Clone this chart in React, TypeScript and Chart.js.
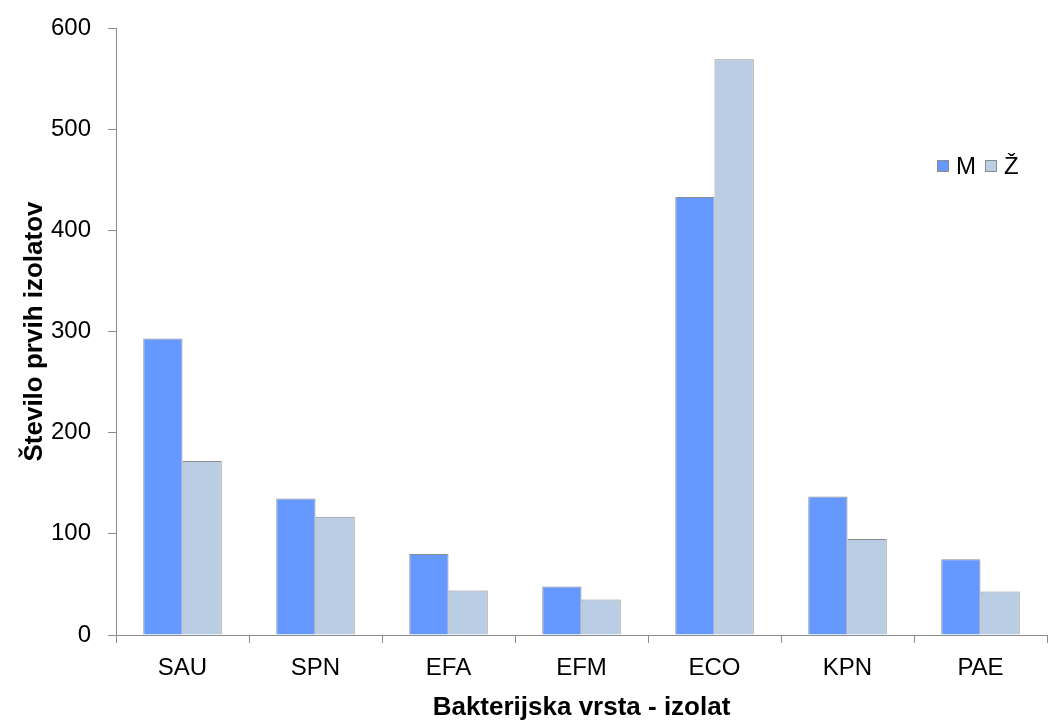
import React, { useEffect, useRef } from "react";
import { Chart, registerables } from "chart.js";

Chart.register(...registerables);

const categories = ["SAU", "SPN", "EFA", "EFM", "ECO", "KPN", "PAE"];
const seriesNames = ["M", "Ž"];
const maleValues = [293, 135, 80, 48, 433, 137, 75];
const femaleValues = [172, 117, 44, 35, 569, 95, 43];
const yTicks = [0, 100, 200, 300, 400, 500, 600];

const maleColor = "#6699FF";
const femaleColor = "#B9CDE5";
const edgeColor = "#8C8C8C";
const fontFamily = "'Liberation Sans', Arial, sans-serif";

// Legend drawn inside the plot area, near the top-right corner
const innerLegend = {
  id: "innerLegend",
  afterDraw(chart: any) {
    const { ctx } = chart;
    const items = [
      { label: seriesNames[0], color: maleColor, x: 937 },
      { label: seriesNames[1], color: femaleColor, x: 985 },
    ];
    const cy = 166;
    ctx.save();
    ctx.font = `24px ${fontFamily}`;
    ctx.textBaseline = "middle";
    for (const it of items) {
      ctx.fillStyle = it.color;
      ctx.fillRect(it.x, cy - 6, 12, 12);
      ctx.strokeStyle = edgeColor;
      ctx.lineWidth = 1;
      ctx.strokeRect(it.x + 0.5, cy - 5.5, 11, 11);
      ctx.fillStyle = "#000";
      ctx.fillText(it.label, it.x + 19, cy + 1);
    }
    ctx.restore();
  },
};

export default function App() {
  const ref = useRef<HTMLCanvasElement | null>(null);

  useEffect(() => {
    if (!ref.current) return;
    const chart = new Chart(ref.current, {
      type: "bar",
      data: {
        labels: categories,
        datasets: [
          {
            label: seriesNames[0],
            data: maleValues,
            backgroundColor: maleColor,
            borderColor: edgeColor,
            borderWidth: 1,
            categoryPercentage: 0.59,
            barPercentage: 1,
          },
          {
            label: seriesNames[1],
            data: femaleValues,
            backgroundColor: femaleColor,
            borderColor: edgeColor,
            borderWidth: 1,
            categoryPercentage: 0.59,
            barPercentage: 1,
          },
        ],
      },
      plugins: [innerLegend],
      options: {
        responsive: false,
        animation: false,
        layout: { padding: { top: 28, right: 17, left: 0, bottom: 0 } },
        plugins: {
          legend: { display: false },
          tooltip: { enabled: false },
        },
        scales: {
          x: {
            afterFit(scale: any) {
              scale.height = 85;
              scale.paddingLeft = 0;
              scale.paddingRight = 0;
            },
            grid: {
              display: true,
              offset: true,
              drawOnChartArea: false,
              drawTicks: true,
              tickLength: 8,
              color: edgeColor,
            },
            border: { display: true, color: edgeColor, width: 1 },
            ticks: {
              color: "#000",
              padding: 11,
              font: { family: fontFamily, size: 24 },
            },
            title: {
              display: true,
              text: "Bakterijska vrsta - izolat",
              color: "#000",
              font: { family: fontFamily, size: 26, weight: "bold" },
              padding: { top: 0, bottom: -3 },
            },
          },
          y: {
            min: 0,
            max: 600,
            afterFit(scale: any) {
              scale.width = 116;
              scale.paddingTop = 0;
              scale.paddingBottom = 0;
            },
            afterBuildTicks(scale: any) {
              scale.ticks = yTicks.map((v) => ({ value: v }));
            },
            grid: {
              display: true,
              drawOnChartArea: false,
              drawTicks: true,
              tickLength: 8,
              color: edgeColor,
            },
            border: { display: true, color: edgeColor, width: 1 },
            ticks: {
              color: "#000",
              padding: 17,
              font: { family: fontFamily, size: 24 },
            },
            title: {
              display: true,
              text: "Število prvih izolatov",
              color: "#000",
              font: { family: fontFamily, size: 26, weight: "bold" },
              padding: { top: 19, bottom: 0 },
            },
          },
        },
      },
    });
    return () => chart.destroy();
  }, []);

  return (
    <div style={{ position: "absolute", left: 0, top: 0, width: 1064, height: 720, background: "#fff" }}>
      <canvas ref={ref} width={1064} height={720} />
    </div>
  );
}
